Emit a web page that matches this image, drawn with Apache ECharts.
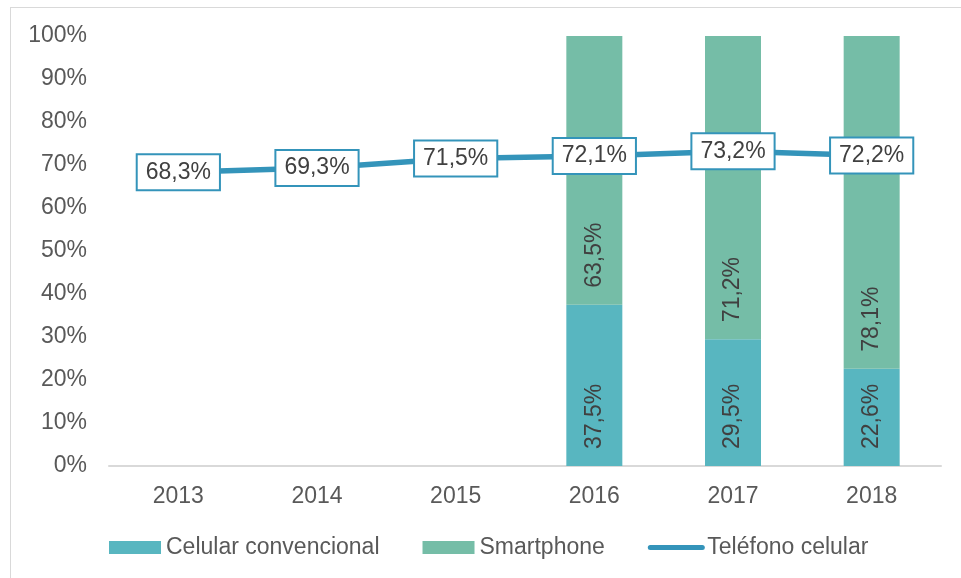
<!DOCTYPE html>
<html><head><meta charset="utf-8">
<script src="https://cdn.jsdelivr.net/npm/echarts@6/dist/echarts.min.js"></script>
<style>
html,body{margin:0;padding:0;background:#fff;}
#frame{position:absolute;left:10px;top:7px;width:960px;height:580px;border:1px solid #d9d9d9;box-sizing:border-box;}
#c{position:absolute;left:0;top:0;width:961px;height:578px;}
</style></head>
<body><div id="frame"></div><div id="c"></div>
<script>
const categories = ['2013','2014','2015','2016','2017','2018'];
const convencional = [null,null,null,37.5,29.5,22.6];
const smartphone = [null,null,null,63.5,71.2,78.1];
const telefono = [68.3,69.3,71.5,72.1,73.2,72.2];
const yTicks = [0,10,20,30,40,50,60,70,80,90,100];

const fmt = v => v.toFixed(1).replace('.', ',') + '%';
const FONT = 'Liberation Sans, Arial, sans-serif';
const chart = echarts.init(document.getElementById('c'));
const barLabel = {
  show: true, position: 'insideBottom', distance: 17, rotate: 90,
  align: 'left', verticalAlign: 'middle',
  fontSize: 23, fontFamily: FONT, color: '#404040',
  formatter: p => p.value == null ? '' : fmt(p.value)
};
chart.setOption({
  animation: false,
  textStyle: {fontFamily: FONT},
  grid: {left: 109, right: 20, top: 36, bottom: 112},
  legend: {
    left: 104, top: 531, itemWidth: 52, itemHeight: 13, itemGap: 43,
    textStyle: {fontSize: 23, color: '#595959', fontFamily: FONT},
    data: [
      {name: 'Celular convencional', icon: 'rect'},
      {name: 'Smartphone', icon: 'rect'},
      {name: 'Teléfono celular', itemStyle: {color: 'rgba(0,0,0,0)', borderWidth: 0, opacity: 0},
       lineStyle: {width: 5, cap: 'round', color: '#3494BA'}}
    ]
  },
  xAxis: {
    type: 'category', data: categories,
    axisLine: {lineStyle: {color: '#d9d9d9', width: 2}},
    axisTick: {show: false},
    axisLabel: {fontSize: 23, color: '#595959', margin: 19, fontFamily: FONT}
  },
  yAxis: {
    type: 'value', min: yTicks[0], max: yTicks[yTicks.length-1], interval: 10,
    splitLine: {show: false}, axisLine: {show: false}, axisTick: {show: false},
    axisLabel: {fontSize: 23, color: '#595959', margin: 22, fontFamily: FONT,
      padding: [8, 0, 0, 0], formatter: v => v + '%'}
  },
  series: [
    {name: 'Celular convencional', type: 'bar', stack: 'a', data: convencional, barWidth: 56, clip: true,
     itemStyle: {color: '#58B6C0'}, label: barLabel},
    {name: 'Smartphone', type: 'bar', stack: 'a', data: smartphone, barWidth: 56, clip: true,
     itemStyle: {color: '#75BDA7'}, label: barLabel},
    {name: 'Teléfono celular', type: 'line', data: telefono, z: 5,
     symbol: 'circle', symbolSize: 1,
     lineStyle: {color: '#3494BA', width: 5.5},
     itemStyle: {color: '#3494BA'},
     label: {show: true, position: 'inside', formatter: p => fmt(p.value),
       fontSize: 23, color: '#404040', fontFamily: FONT,
       backgroundColor: '#fff', borderColor: '#3494BA', borderWidth: 2,
       padding: [6, 8, 5, 8]}}
  ]
});
</script></body></html>
